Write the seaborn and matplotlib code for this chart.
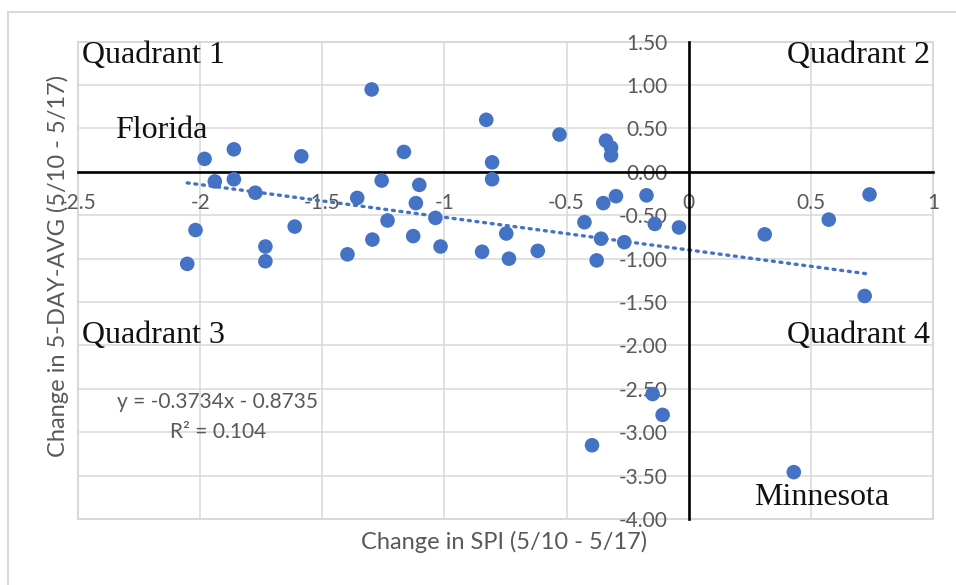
import numpy as np
import pandas as pd
import seaborn as sns
import matplotlib.pyplot as plt
from matplotlib.patches import Rectangle

# change in SPI (x) and change in 5-day average (y), one point per state
spi_change = [-1.298, -1.982, -1.862, -1.586, -1.940, -1.862, -1.774, -1.357, -1.257,
              -1.233, -2.019, -1.613, -1.733, -1.733, -2.053, -1.295, -1.397, -0.829,
              -0.529, -0.339, -0.318, -0.318, -1.166, -0.805, -0.805, -1.103, -1.117,
              -1.037, -1.128, -1.016, -0.846, -0.747, -0.736, -0.618, -0.427, -0.350,
              -0.298, -0.173, -0.359, -0.264, -0.377, -0.139, -0.040, 0.311, 0.573,
              0.740, 0.720, -0.148, -0.107, -0.396, 0.430]
avg_change = [0.95, 0.15, 0.26, 0.18, -0.11, -0.085, -0.24, -0.30, -0.10,
              -0.56, -0.67, -0.63, -0.86, -1.03, -1.06, -0.78, -0.95, 0.60,
              0.43, 0.36, 0.28, 0.19, 0.23, 0.11, -0.085, -0.15, -0.36,
              -0.53, -0.74, -0.86, -0.92, -0.71, -1.00, -0.91, -0.58, -0.36,
              -0.28, -0.27, -0.77, -0.81, -1.02, -0.60, -0.64, -0.72, -0.55,
              -0.26, -1.43, -2.56, -2.80, -3.15, -3.46]

x_ticks = [-2.5, -2, -1.5, -1, -0.5, 0, 0.5, 1]
x_tick_labels = ["-2.5", "-2", "-1.5", "-1", "-0.5", "0", "0.5", "1"]
y_ticks = [1.5, 1.0, 0.5, 0.0, -0.5, -1.0, -1.5, -2.0, -2.5, -3.0, -3.5, -4.0]

df = pd.DataFrame({"spi": spi_change, "avg": avg_change})

sns.set_theme(style="white")
plt.rcParams['font.family'] = ['Lato', 'DejaVu Sans']

blue = "#4472C4"
gray_txt = "#595959"
grid_col = "#d9d9d9"
serif = ['Liberation Serif', 'DejaVu Serif']

fig = plt.figure(figsize=(9.56, 5.85), dpi=100)
ax = fig.add_axes([0.0816, 0.1128, 0.976 - 0.0816, 0.9287 - 0.1128])

sns.regplot(data=df, x="spi", y="avg", ax=ax, ci=None, scatter=False,
            line_kws={"color": blue, "lw": 2.4, "linestyle": (0, (0.6, 1.7)),
                      "dash_capstyle": "round"})
sns.scatterplot(data=df, x="spi", y="avg", ax=ax, s=110, color=blue,
                edgecolor="none", zorder=3)

ax.set_xlim(-2.5, 1)
ax.set_ylim(-4, 1.5)
ax.set_xticks(x_ticks)
ax.set_xticklabels(x_tick_labels)
ax.set_yticks(y_ticks)
ax.set_yticklabels([f"{v:.2f}" for v in y_ticks])
ax.grid(True, color=grid_col, lw=1.1)
ax.set_axisbelow(True)

ax.spines['left'].set_position(('data', 0))
ax.spines['bottom'].set_position(('data', 0))
for s in ['left', 'bottom']:
    ax.spines[s].set_color('black')
    ax.spines[s].set_linewidth(1.9)
    ax.spines[s].set_zorder(2)
for s in ['top', 'right']:
    ax.spines[s].set_visible(False)
ax.add_patch(Rectangle((0, 0), 1, 1, transform=ax.transAxes, fill=False,
                       ec=grid_col, lw=1.5, clip_on=False, zorder=0.5))

ax.tick_params(axis='both', length=0, labelsize=15, labelcolor=gray_txt, pad=15)
ax.set_xlabel("")
ax.set_ylabel("")

fig.text(0.5277, 0.074, "Change in SPI (5/10 - 5/17)", ha='center', va='center',
         fontsize=17, color=gray_txt)
fig.text(0.0607, 0.545, "Change in 5-DAY-AVG (5/10 - 5/17)", ha='center', va='center',
         rotation=90, fontsize=17, color=gray_txt)

ax.text(0.1637, 0.245, "y = -0.3734x - 0.8735", transform=ax.transAxes,
        ha='center', va='center', fontsize=15, color=gray_txt)
ax.text(0.1637, 0.182, "R² = 0.104", transform=ax.transAxes,
        ha='center', va='center', fontsize=15, color=gray_txt)

qkw = dict(transform=ax.transAxes, fontsize=23, color='#111111', family=serif,
           va='baseline')
ax.text(0.005, 0.955, "Quadrant 1", ha='left', **qkw)
ax.text(0.9965, 0.955, "Quadrant 2", ha='right', **qkw)
ax.text(0.005, 0.369, "Quadrant 3", ha='left', **qkw)
ax.text(0.9965, 0.369, "Quadrant 4", ha='right', **qkw)
ax.text(0.0433, 0.798, "Florida", ha='left', **qkw)
ax.text((821.5 - 78) / 855, (519 - 505) / 477.3, "Minnesota", ha='center', **qkw)

# outer chart border (cropped at right and bottom)
top = 1 - 12 / 585
fig.add_artist(Rectangle((8 / 956, -0.2), 1.5, top + 0.2,
                         transform=fig.transFigure, fill=False, ec=grid_col, lw=1.5))

fig.savefig("out.png", dpi=100, facecolor="white")
plt.close()
